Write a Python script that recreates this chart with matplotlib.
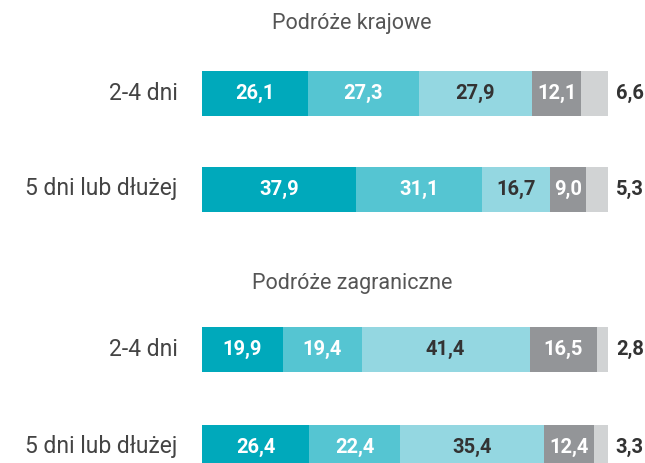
import matplotlib.pyplot as plt
import numpy as np

# dane
groups = ['Podróże krajowe', 'Podróże zagraniczne']
categories = ['2-4 dni', '5 dni lub dłużej', '2-4 dni', '5 dni lub dłużej']
values = [
    [26.1, 27.3, 27.9, 12.1, 6.6],
    [37.9, 31.1, 16.7, 9.0, 5.3],
    [19.9, 19.4, 41.4, 16.5, 2.8],
    [26.4, 22.4, 35.4, 12.4, 3.3],
]

colors = ['#00a9bb', '#55c5d2', '#94d7e1', '#939598', '#d1d3d4']
txt_colors = ['white', 'white', '#333333', 'white', '#333333']

plt.rcParams['font.family'] = ['Roboto', 'DejaVu Sans']

fig = plt.figure(figsize=(6.45, 4.63), dpi=100)
# os x: 0-100 od 202px do 608px, os y w pikselach (od gory)
ax = fig.add_axes([202 / 645, 0, 406 / 645, 1])
ax.set_xlim(0, 100)
ax.set_ylim(463, 0)
ax.axis('off')

ypos = [93, 189, 349, 447]
h = 45

for row, y, cat in zip(values, ypos, categories):
    left = 0
    for k, v in enumerate(row):
        ax.barh(y, v, left=left, height=h, color=colors[k], edgecolor='none')
        lbl = ('%.1f' % v).replace('.', ',')
        if k == len(row) - 1:
            ax.text(left + v + 2, y, lbl, ha='left', va='center',
                    fontsize=14.5, fontweight='bold', color='#333333')
        else:
            ax.text(left + v / 2, y, lbl, ha='center', va='center',
                    fontsize=14.5, fontweight='bold', color=txt_colors[k])
        left += v
    ax.text(-6, y, cat, ha='right', va='center', fontsize=16.5, color='#444444')

ax.text(37, 23, groups[0], ha='center', va='center', fontsize=15.5, color='#555555')
ax.text(37, 283, groups[1], ha='center', va='center', fontsize=15.5, color='#555555')

plt.savefig('out.png', dpi=100)
